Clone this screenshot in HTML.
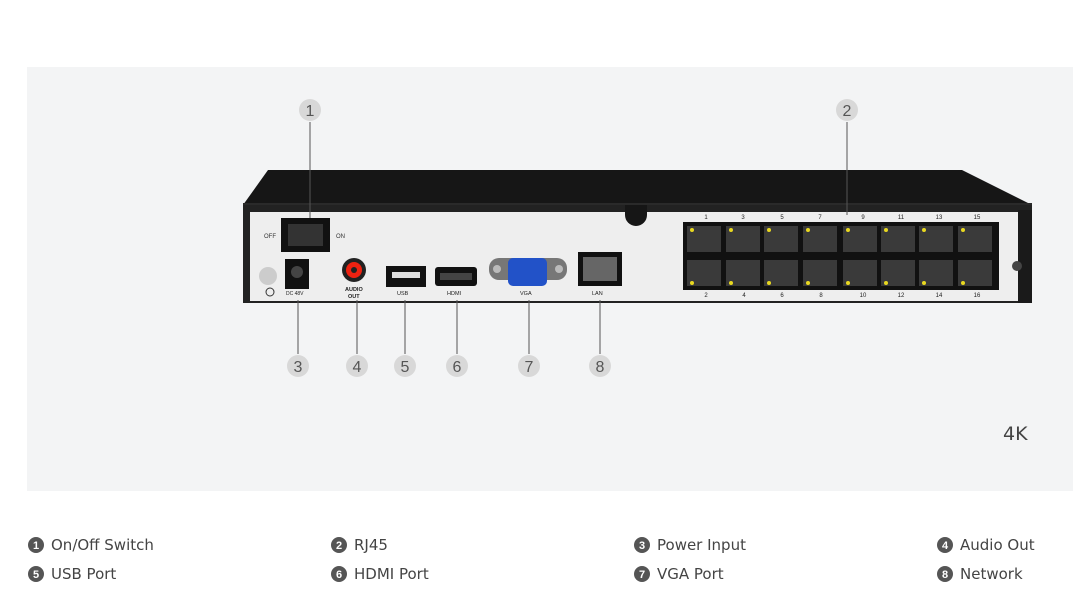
<!DOCTYPE html><html><head><style>body{margin:0;background:#fff;font-family:"Liberation Sans",sans-serif}</style></head><body>
<svg width="1073" height="605" xmlns="http://www.w3.org/2000/svg" font-family="Liberation Sans, sans-serif">
<rect width="1073" height="605" fill="#fff"/>
<rect x="27" y="67" width="1046" height="424" fill="#f3f4f5"/>
<polygon points="268,170 962,170 1032,205 1032,215 243,215 243,205" fill="#161616"/>
<rect x="243" y="203" width="789" height="3" fill="#2a2a2a"/>
<rect x="243" y="205" width="789" height="98" fill="#222"/>
<rect x="250" y="212" width="768" height="89" fill="#eeeeee"/>
<rect x="1018" y="210" width="14" height="93" fill="#1a1a1a"/>
<path d="M625,205 h22 v10 a11,11 0 0 1 -22,0 z" fill="#161616"/>
<circle cx="1017" cy="266" r="5" fill="#444"/>
<rect x="281" y="218" width="49" height="34" fill="#111"/><rect x="288" y="224" width="35" height="22" fill="#333"/>
<text x="264" y="238" font-size="6" fill="#333">OFF</text><text x="336" y="238" font-size="6" fill="#333">ON</text>
<circle cx="268" cy="276" r="9" fill="#ccc"/><circle cx="270" cy="292" r="4" fill="none" stroke="#333"/>
<rect x="285" y="259" width="24" height="30" fill="#111"/><circle cx="297" cy="272" r="6" fill="#444"/>
<text x="286" y="295" font-size="5" fill="#222">DC 48V</text>
<circle cx="354" cy="270" r="12" fill="#222"/><circle cx="354" cy="270" r="8" fill="#e21"/><circle cx="354" cy="270" r="3" fill="#222"/>
<text x="345" y="291" font-size="5.5" fill="#222" font-weight="bold">AUDIO</text><text x="348" y="298" font-size="5.5" fill="#222" font-weight="bold">OUT</text>
<rect x="386" y="266" width="40" height="21" fill="#111"/><rect x="392" y="272" width="28" height="6" fill="#ddd"/>
<text x="397" y="295" font-size="5.5" fill="#222">USB</text>
<rect x="435" y="267" width="42" height="19" rx="3" fill="#111"/><rect x="440" y="273" width="32" height="7" fill="#444"/>
<text x="447" y="295" font-size="5.5" fill="#222">HDMI</text>
<rect x="489" y="258" width="78" height="22" rx="10" fill="#777"/><rect x="508" y="258" width="39" height="28" rx="5" fill="#2252c8"/>
<circle cx="497" cy="269" r="4" fill="#bbb"/><circle cx="559" cy="269" r="4" fill="#bbb"/>
<text x="520" y="295" font-size="5.5" fill="#222">VGA</text>
<rect x="578" y="252" width="44" height="34" fill="#111"/><rect x="583" y="257" width="34" height="24" fill="#666"/>
<text x="592" y="295" font-size="5.5" fill="#222">LAN</text>
<rect x="683" y="222" width="316" height="68" fill="#111"/>
<g fill="#3a3a3a">
<rect x="687" y="226" width="34" height="26"/><rect x="726" y="226" width="34" height="26"/><rect x="764" y="226" width="34" height="26"/><rect x="803" y="226" width="34" height="26"/><rect x="843" y="226" width="34" height="26"/><rect x="881" y="226" width="34" height="26"/><rect x="919" y="226" width="34" height="26"/><rect x="958" y="226" width="34" height="26"/>
<rect x="687" y="260" width="34" height="26"/><rect x="726" y="260" width="34" height="26"/><rect x="764" y="260" width="34" height="26"/><rect x="803" y="260" width="34" height="26"/><rect x="843" y="260" width="34" height="26"/><rect x="881" y="260" width="34" height="26"/><rect x="919" y="260" width="34" height="26"/><rect x="958" y="260" width="34" height="26"/>
</g>
<g fill="#e8d820">
<circle cx="692" cy="230" r="2"/><circle cx="731" cy="230" r="2"/><circle cx="769" cy="230" r="2"/><circle cx="808" cy="230" r="2"/><circle cx="848" cy="230" r="2"/><circle cx="886" cy="230" r="2"/><circle cx="924" cy="230" r="2"/><circle cx="963" cy="230" r="2"/>
<circle cx="692" cy="283" r="2"/><circle cx="731" cy="283" r="2"/><circle cx="769" cy="283" r="2"/><circle cx="808" cy="283" r="2"/><circle cx="848" cy="283" r="2"/><circle cx="886" cy="283" r="2"/><circle cx="924" cy="283" r="2"/><circle cx="963" cy="283" r="2"/>
</g>
<g font-size="6" fill="#222" text-anchor="middle">
<text x="706" y="219">1</text><text x="743" y="219">3</text><text x="782" y="219">5</text><text x="820" y="219">7</text><text x="863" y="219">9</text><text x="901" y="219">11</text><text x="939" y="219">13</text><text x="977" y="219">15</text>
<text x="706" y="297">2</text><text x="744" y="297">4</text><text x="782" y="297">6</text><text x="821" y="297">8</text><text x="863" y="297">10</text><text x="901" y="297">12</text><text x="939" y="297">14</text><text x="977" y="297">16</text>
</g>
<g stroke="#555" stroke-width="1">
<line x1="310" y1="122" x2="310" y2="218"/><line x1="847" y1="122" x2="847" y2="215"/>
<line x1="298" y1="300" x2="298" y2="354"/><line x1="357" y1="300" x2="357" y2="354"/><line x1="405" y1="300" x2="405" y2="354"/><line x1="457" y1="300" x2="457" y2="354"/><line x1="529" y1="300" x2="529" y2="354"/><line x1="600" y1="300" x2="600" y2="354"/>
</g>
<g fill="#d8d8d8"><circle cx="310" cy="110" r="11"/><circle cx="847" cy="110" r="11"/><circle cx="298" cy="366" r="11"/><circle cx="357" cy="366" r="11"/><circle cx="405" cy="366" r="11"/><circle cx="457" cy="366" r="11"/><circle cx="529" cy="366" r="11"/><circle cx="600" cy="366" r="11"/></g>
<g font-size="16" fill="#555" text-anchor="middle">
<text x="310" y="116">1</text><text x="847" y="116">2</text><text x="298" y="372">3</text><text x="357" y="372">4</text><text x="405" y="372">5</text><text x="457" y="372">6</text><text x="529" y="372">7</text><text x="600" y="372">8</text>
</g>
<text x="1003" y="440" font-size="19" fill="#444" font-family="DejaVu Sans, sans-serif">4K</text>
<g fill="#555"><circle cx="36" cy="545" r="8"/><circle cx="339" cy="545" r="8"/><circle cx="642" cy="545" r="8"/><circle cx="945" cy="545" r="8"/>
<circle cx="36" cy="574" r="8"/><circle cx="339" cy="574" r="8"/><circle cx="642" cy="574" r="8"/><circle cx="945" cy="574" r="8"/></g>
<g font-size="11" fill="#fff" text-anchor="middle" font-weight="bold">
<text x="36" y="549">1</text><text x="339" y="549">2</text><text x="642" y="549">3</text><text x="945" y="549">4</text>
<text x="36" y="578">5</text><text x="339" y="578">6</text><text x="642" y="578">7</text><text x="945" y="578">8</text></g>
<g font-size="15" fill="#444" font-family="DejaVu Sans, sans-serif">
<text x="51" y="550">On/Off Switch</text><text x="354" y="550">RJ45</text><text x="657" y="550">Power Input</text><text x="960" y="550">Audio Out</text>
<text x="51" y="579">USB Port</text><text x="354" y="579">HDMI Port</text><text x="657" y="579">VGA Port</text><text x="960" y="579">Network</text>
</g>
</svg></body></html>
